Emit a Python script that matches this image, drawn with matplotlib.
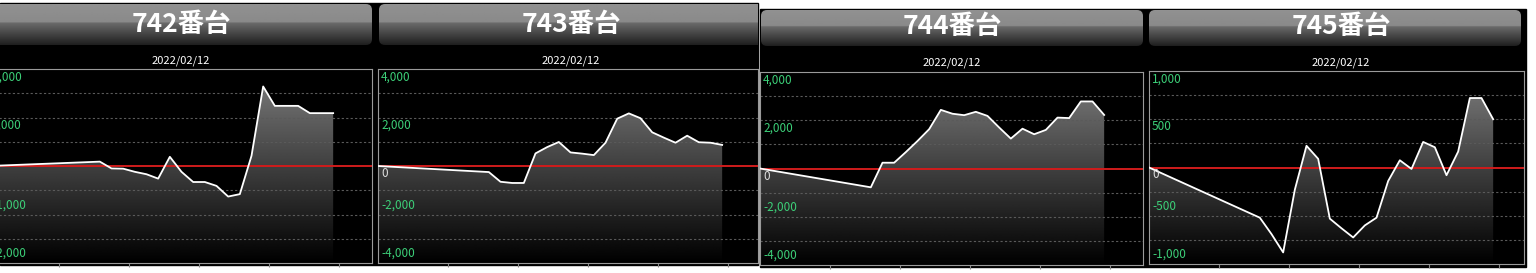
import matplotlib.pyplot as plt
import numpy as np
from matplotlib.patches import FancyBboxPatch, Rectangle

plt.rcParams['font.family'] = ['Noto Sans CJK JP', 'DejaVu Sans']

W, H = 1536, 273

# data: minutes since open, difference in medals per machine
minutes = [0, 95, 105, 115, 125, 135, 145, 155, 165, 175, 185,
           195, 205, 215, 225, 235, 245, 255, 265, 275, 285, 295]
titles = ["742番台", "743番台", "744番台", "745番台"]
date_label = "2022/02/12"

diff_742 = [0, 90, -50, -55, -120, -170, -260, 190, -120, -330, -330,
            -410, -630, -580, 210, 1640, 1240, 1240, 1240, 1090, 1090, 1090]
diff_743 = [0, -250, -650, -700, -700, 520, 780, 990, 560, 510, 450,
            960, 1950, 2170, 1970, 1390, 1170, 960, 1250, 980, 960, 870]
diff_744 = [0, -780, 240, 240, 680, 1140, 1630, 2430, 2270, 2210, 2350,
            2180, 1700, 1240, 1650, 1420, 1600, 2110, 2090, 2780, 2780, 2220]
diff_745 = [0, -520, -690, -880, -230, 225, 90, -530, -630, -725, -600,
            -520, -140, 75, -15, 265, 210, -80, 165, 720, 720, 500]
series = [diff_742, diff_743, diff_744, diff_745]

y_limits = [2000, 4000, 4000, 1000]
label_742 = ["2,000", "1,000", "0", "-1,000", "-2,000"]
label_743 = ["4,000", "2,000", "0", "-2,000", "-4,000"]
label_744 = ["4,000", "2,000", "0", "-2,000", "-4,000"]
label_745 = ["1,000", "500", "0", "-500", "-1,000"]
y_labels = [label_742, label_743, label_744, label_745]

# layout in pixels (left, top, right, bottom)
plot_boxes = [(-11, 69, 372, 263), (378, 69, 758, 263),
              (760, 72, 1143, 265), (1149, 71, 1524, 264)]
header_boxes = [(-20, 4, 372, 45), (379, 4, 770, 45),
                (761, 10, 1143, 46), (1149, 10, 1521, 46)]
header_visible = [(0, 372), (379, 758), (761, 1143), (1149, 1521)]
title_x = [181, 571, 952, 1341]
title_y = [24, 24, 26, 26]
date_y = [61, 61, 63, 63]
px_per_hour = 70

fig = plt.figure(figsize=(W / 100, H / 100), dpi=100, facecolor="white")

bg = fig.add_axes([0, 0, 1, 1])
bg.axis("off")
bg.add_patch(Rectangle((0, 3), 758, 262, color="black", zorder=0))
bg.add_patch(Rectangle((760, 9), 766, 258, color="black", zorder=0))

# glossy header bars
grad = np.concatenate([np.linspace(0.57, 0.54, 45), np.linspace(0.42, 0.12, 55)])
for i in range(4):
    l, t, r, b = header_boxes[i]
    vl, vr = header_visible[i]
    patch = FancyBboxPatch((l, t), r - l, b - t,
                           boxstyle="round,pad=0,rounding_size=6",
                           facecolor="none", edgecolor="none")
    bg.add_patch(patch)
    im = bg.imshow(grad.reshape(-1, 1), cmap="gray", vmin=0, vmax=1,
                   extent=[vl, vr, b, t], aspect="auto", origin="upper",
                   interpolation="bilinear", zorder=1)
    im.set_clip_path(patch)
    bg.text(title_x[i], title_y[i], titles[i], color="white", fontsize=19,
            fontweight="bold", ha="center", va="center", zorder=2)
    bg.text(title_x[i], date_y[i], date_label, color="white", fontsize=8,
            ha="center", va="center", zorder=2)

bg.set_xlim(0, W)
bg.set_ylim(H, 0)

fill_grad = np.linspace(0.5, 0.0, 256).reshape(-1, 1)

for i in range(4):
    l, t, r, b = plot_boxes[i]
    ax = fig.add_axes([l / W, 1 - b / H, (r - l) / W, (b - t) / H])
    ax.set_facecolor("black")
    lim = y_limits[i]
    xmax = (r - l) / px_per_hour * 60
    vals = series[i]

    ax.set_xlim(0, xmax)
    ax.set_ylim(-lim, lim)

    poly = ax.fill_between(minutes, vals, -lim, facecolor="none", edgecolor="none")
    im = ax.imshow(fill_grad, cmap="gray", vmin=0, vmax=1,
                   extent=[0, xmax, -lim, lim], aspect="auto",
                   interpolation="bilinear", zorder=1)
    im.set_clip_path(poly.get_paths()[0], transform=ax.transData)

    for k in [-3, -2, -1, 1, 2, 3]:
        ax.axhline(lim * k / 4, color="#5a5a5a", lw=0.8,
                   linestyle=(0, (2, 2)), zorder=2)
    ax.axhline(0, color="#d01c1c", lw=1.4, zorder=2)
    ax.plot(minutes, vals, color="white", lw=1.3, zorder=3)

    tick_vals = [lim, lim / 2, 0, -lim / 2, -lim]
    aligns = ["top", "top", "top", "bottom", "bottom"]
    shifts = [-2, -1, -1, 3, 3]
    for v, lab, va, dy in zip(tick_vals, y_labels[i], aligns, shifts):
        ax.annotate(lab, xy=(0, v), xycoords=("axes fraction", "data"),
                    xytext=(3, dy), textcoords="offset pixels",
                    color="#dddddd" if v == 0 else "#3ccf78",
                    fontsize=8.5, ha="left", va=va, zorder=4,
                    annotation_clip=False)

    ax.set_xlim(0, xmax)
    ax.set_ylim(-lim, lim)
    ax.set_xticks([60, 120, 180, 240, 300])
    ax.set_xticklabels([])
    ax.set_yticks([])
    ax.tick_params(axis="x", direction="out", length=3, color="#888888", width=0.8)
    for sp in ax.spines.values():
        sp.set_color("#9a9a9a")
        sp.set_linewidth(0.8)

plt.savefig("out.png", dpi=100, facecolor="white")
